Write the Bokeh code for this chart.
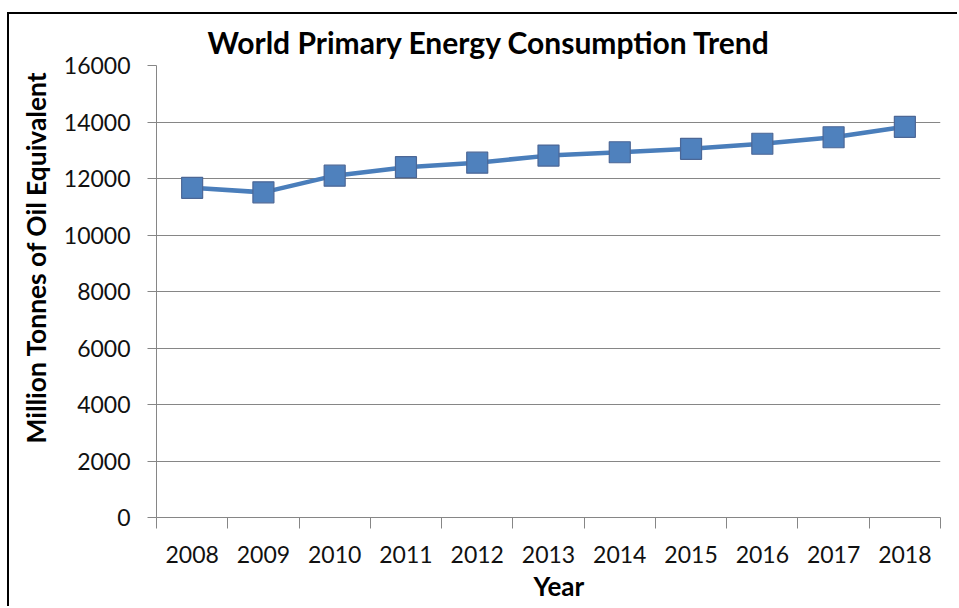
from bokeh.embed import file_html
from bokeh.models import FixedTicker, Title
from bokeh.plotting import figure
from bokeh.resources import INLINE

# Yearly world primary energy consumption
years = [2008, 2009, 2010, 2011, 2012, 2013, 2014, 2015, 2016, 2017, 2018]
consumption = [11670, 11510, 12100, 12400, 12560, 12810, 12930, 13050, 13230, 13460, 13830]
y_ticks = [0, 2000, 4000, 6000, 8000, 10000, 12000, 14000, 16000]

title_text = "World Primary Energy Consumption Trend"
x_title = "Year"
y_title = "Million Tonnes of Oil Equivalent"

FONT = "Lato"
AXIS_GREY = "#868686"

p = figure(
    width=950, height=594,
    x_range=(years[0] - 0.5, years[-1] + 0.5),
    y_range=(y_ticks[0], y_ticks[-1]),
    output_backend="svg", toolbar_location=None,
    min_border_left=147, min_border_right=19,
    min_border_top=51, min_border_bottom=91,
)
p.margin = (12, 0, 0, 7)
p.styles = {"border-top": "2px solid #000000", "border-left": "2px solid #000000"}
p.outline_line_color = None
p.background_fill_color = "#ffffff"
p.border_fill_color = "#ffffff"

# x axis: labels under each year, tick marks between the years
boundaries = [y - 0.5 for y in years] + [years[-1] + 0.5]
p.xaxis.ticker = FixedTicker(ticks=years, minor_ticks=boundaries)
p.xaxis.major_tick_out = 0
p.xaxis.major_tick_in = 0
p.xaxis.minor_tick_out = 11
p.xaxis.minor_tick_in = 0
p.xaxis.minor_tick_line_color = AXIS_GREY
p.xaxis.major_label_standoff = 17

p.yaxis.ticker = FixedTicker(ticks=y_ticks)
p.yaxis.major_tick_out = 9
p.yaxis.major_tick_in = 0
p.yaxis.minor_tick_line_color = None
p.yaxis.major_label_standoff = 17

for ax in (p.xaxis, p.yaxis):
    ax.axis_line_color = AXIS_GREY
    ax.major_tick_line_color = AXIS_GREY
    ax.major_label_text_font = FONT
    ax.major_label_text_font_size = "23px"
    ax.major_label_text_color = "#111111"

p.xgrid.grid_line_color = None
p.ygrid.ticker = FixedTicker(ticks=y_ticks)
p.ygrid.grid_line_color = AXIS_GREY
p.ygrid.grid_line_width = 1

p.line(years, consumption, line_color="#4A7EBB", line_width=4.5)
p.scatter(years, consumption, marker="square", size=21,
          fill_color="#4F81BD", line_color="#4C6796", line_width=1.2)

# chart title and axis titles, each in its own side panel
p.add_layout(Title(text=title_text, align="left", offset=51, standoff=12,
                   text_font=FONT, text_font_style="bold",
                   text_font_size="30px", text_color="#000000"), "above")
p.add_layout(Title(text=y_title, align="left", offset=74, standoff=17,
                   text_font=FONT, text_font_style="bold",
                   text_font_size="26.4px", text_color="#000000"), "left")
p.add_layout(Title(text=x_title, align="left", offset=377, standoff=5,
                   text_font=FONT, text_font_style="bold",
                   text_font_size="26px", text_color="#000000"), "below")

open("out.html", "w").write(file_html(p, INLINE))
